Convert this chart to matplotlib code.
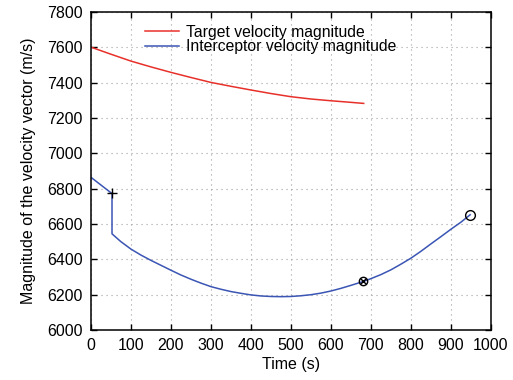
import matplotlib.pyplot as plt

# Velocity magnitudes over time (s, m/s)
target_time = [0, 50, 100, 150, 200, 250, 300, 350, 400, 450, 500, 550,
               600, 650, 682]
target_speed = [7602, 7562, 7523, 7490, 7459, 7430, 7402, 7380, 7359, 7339,
                7321, 7308, 7298, 7289, 7283]

interceptor_time = [0, 53, 53, 75, 100, 125, 150, 175, 200, 225, 250, 275,
                    300, 325, 350, 375, 400, 425, 450, 475, 500, 525, 550,
                    575, 600, 625, 650, 681, 700, 725, 750, 775, 800, 825,
                    850, 875, 900, 925, 948]
interceptor_speed = [6865, 6772, 6544, 6500, 6458, 6424, 6394, 6366, 6338,
                     6311, 6287, 6265, 6245, 6230, 6217, 6207, 6198, 6192,
                     6189, 6188, 6189, 6193, 6199, 6208, 6220, 6235, 6252,
                     6274, 6290, 6313, 6340, 6372, 6406, 6445, 6487, 6528,
                     6570, 6610, 6652]

# Event markers: burnout, intercept, end of flight
burnout = (52, 6774)
intercept = (681, 6274)
flight_end = (948, 6652)

x_ticks = list(range(0, 1001, 100))
y_ticks = list(range(6000, 7801, 200))


def create_plot(output_path):
    """Draw both velocity magnitudes and save the figure."""
    plt.rcParams['font.family'] = ['Liberation Sans', 'DejaVu Sans']

    fig = plt.figure(figsize=(5.13, 3.80), dpi=100)
    ax = fig.add_axes([0.177, 0.132, 0.780, 0.836])

    ax.plot(target_time, target_speed, color='#e8302a', linewidth=1.1,
            label='Target velocity magnitude')
    ax.plot(interceptor_time, interceptor_speed, color='#3a55b4',
            linewidth=1.1, label='Interceptor velocity magnitude')

    ax.plot(*burnout, marker='+', color='black', markersize=7, mew=1.0)
    ax.plot(*intercept, marker='o', color='black', markersize=6,
            mfc='none', mew=1.0)
    ax.plot(*intercept, marker='x', color='black', markersize=4, mew=1.0)
    ax.plot(*flight_end, marker='o', color='black', markersize=7,
            mfc='none', mew=1.0)

    ax.set_xlim(0, 1000)
    ax.set_ylim(6000, 7800)
    ax.set_xticks(x_ticks)
    ax.set_yticks(y_ticks)
    ax.tick_params(direction='in', length=4, width=1.0, labelsize=11.5,
                   top=True, right=True, pad=6)
    ax.grid(True, color='#a0a0a0', linestyle=(0, (1, 3.5)), linewidth=0.8)
    for spine in ax.spines.values():
        spine.set_linewidth(1.1)

    ax.set_xlabel('Time (s)', fontsize=11.5, labelpad=3)
    ax.set_ylabel('Magnitude of the velocity vector (m/s)', fontsize=11.5,
                  labelpad=8)

    ax.legend(loc='upper left', bbox_to_anchor=(0.135, 0.96),
              frameon=False, fontsize=11.3, handlelength=2.2,
              handletextpad=0.4, labelspacing=-0.05, borderpad=0,
              borderaxespad=0)

    fig.savefig(output_path, dpi=100)


def main():
    create_plot('out.png')


if __name__ == "__main__":
    main()
